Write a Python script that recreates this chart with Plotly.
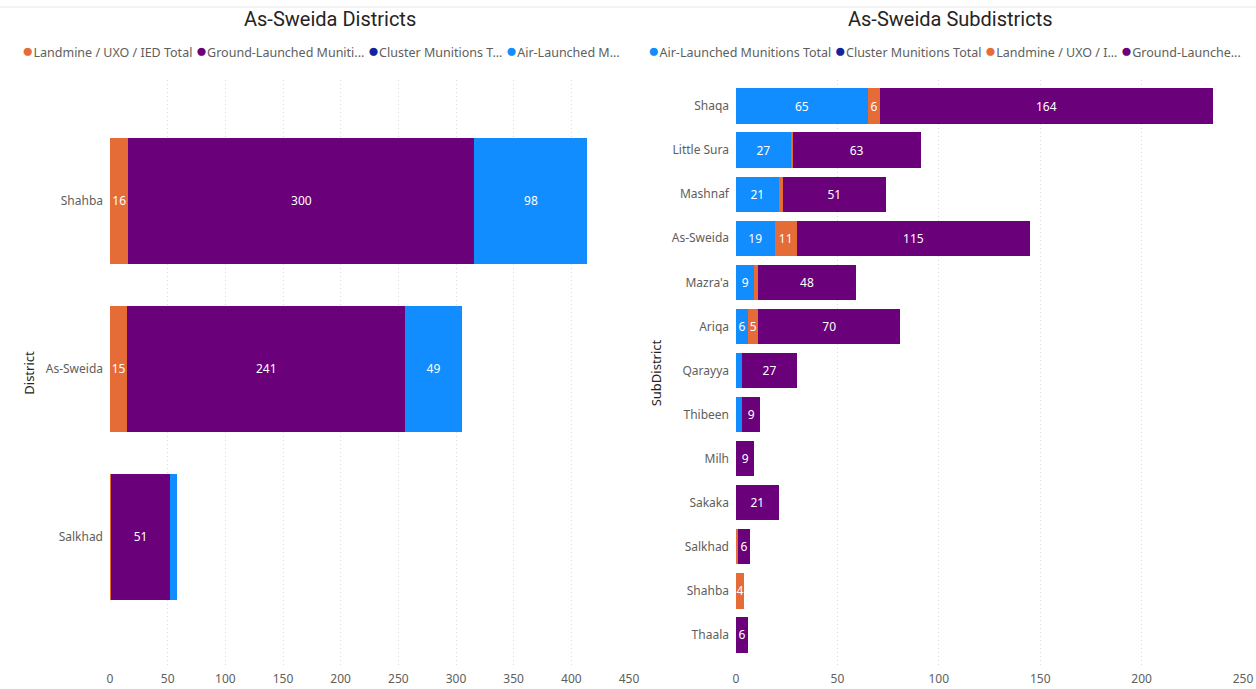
import plotly.graph_objects as go

# ---------------- data ----------------
districts = ["Shahba", "As-Sweida", "Salkhad"]
d_landmine = [16, 15, 1]
d_ground = [300, 241, 51]
d_cluster = [0, 0, 0]
d_air = [98, 49, 6]

subdistricts = ["Shaqa", "Little Sura", "Mashnaf", "As-Sweida", "Mazra'a", "Ariqa",
                "Qarayya", "Thibeen", "Milh", "Sakaka", "Salkhad", "Shahba", "Thaala"]
s_air = [65, 27, 21, 19, 9, 6, 3, 3, 0, 0, 0, 0, 0]
s_cluster = [0, 0, 0, 0, 0, 0, 0, 0, 0, 0, 0, 0, 0]
s_landmine = [6, 1, 2, 11, 2, 5, 0, 0, 0, 0, 1, 4, 0]
s_ground = [164, 63, 51, 115, 48, 70, 27, 9, 9, 21, 6, 0, 6]

left_ticks = [0, 50, 100, 150, 200, 250, 300, 350, 400, 450]
right_ticks = [0, 50, 100, 150, 200, 250]

C_LAND = "#E66C37"
C_GROUND = "#6B007B"
C_CLUSTER = "#12239E"
C_AIR = "#118DFF"

W, H = 1256, 689
FONT = "Noto Sans"
GREY = "#605E5C"
DARK = "#252423"


def px(x):
    return x / W


def py(y):
    return 1 - y / H


fig = go.Figure()


def labels(vals, minv):
    return [str(v) if v >= minv else "" for v in vals]


def add_bar(cats, vals, color, xa, ya, width, minv):
    fig.add_trace(go.Bar(
        y=cats, x=vals, orientation="h", marker=dict(color=color, line=dict(width=0)),
        xaxis=xa, yaxis=ya, width=width, showlegend=False,
        text=labels(vals, minv), textposition="inside", insidetextanchor="middle",
        textangle=0, constraintext="none",
        textfont=dict(color="white", size=12, family=FONT),
        hoverinfo="x+y",
    ))


# Left chart stack: landmine, ground, cluster, air
add_bar(districts, d_landmine, C_LAND, "x", "y", 0.75, 10)
add_bar(districts, d_ground, C_GROUND, "x", "y", 0.75, 10)
add_bar(districts, d_cluster, C_CLUSTER, "x", "y", 0.75, 10)
add_bar(districts, d_air, C_AIR, "x", "y", 0.75, 10)

# Right chart stack: air, cluster, landmine, ground
add_bar(subdistricts, s_air, C_AIR, "x2", "y2", 0.8, 4)
add_bar(subdistricts, s_cluster, C_CLUSTER, "x2", "y2", 0.8, 4)
add_bar(subdistricts, s_landmine, C_LAND, "x2", "y2", 0.8, 4)
add_bar(subdistricts, s_ground, C_GROUND, "x2", "y2", 0.8, 4)

ytop, ybot = 80, 666
left_span = (ybot - ytop) / 168.0
right_span = (ybot - ytop) / 44.08

xaxis_common = dict(
    showgrid=True, gridcolor="#DADADA", griddash="1px,3px", gridwidth=1,
    zeroline=False, showline=False, ticks="",
    tickfont=dict(size=12, color=GREY, family=FONT), automargin=False,
    ticklabelstandoff=4,
)
yaxis_common = dict(
    type="category", showgrid=False, zeroline=False, showline=False, ticks="",
    tickfont=dict(size=12, color=GREY, family=FONT), automargin=False,
    ticklabelstandoff=6,
)

fig.update_layout(
    width=W, height=H,
    margin=dict(l=0, r=0, t=0, b=0),
    paper_bgcolor="white", plot_bgcolor="white",
    barmode="stack",
    font=dict(family=FONT),
    xaxis=dict(xaxis_common, domain=[px(110), px(629)], range=[0, 450],
               tickvals=left_ticks, anchor="y"),
    yaxis=dict(yaxis_common, domain=[py(ybot), py(ytop)],
               categoryorder="array", categoryarray=districts,
               range=[-0.72 + left_span, -0.72], anchor="x",
               title=dict(text="District", font=dict(size=13, color=DARK, family=FONT), standoff=8)),
    xaxis2=dict(xaxis_common, domain=[px(736), px(1243)], range=[0, 250],
                tickvals=right_ticks, anchor="y2"),
    yaxis2=dict(yaxis_common, domain=[py(ybot), py(ytop)],
                categoryorder="array", categoryarray=subdistricts,
                range=[-0.59 + right_span, -0.59], anchor="x2",
                title=dict(text="SubDistrict", font=dict(size=13, color=DARK, family=FONT), standoff=7)),
)

# Titles
fig.add_annotation(text="As-Sweida Districts", x=px(330), y=py(19), xref="paper", yref="paper",
                   showarrow=False, font=dict(size=20, color=DARK, family="Roboto"),
                   xanchor="center", yanchor="middle")
fig.add_annotation(text="As-Sweida Subdistricts", x=px(950), y=py(19), xref="paper", yref="paper",
                   showarrow=False, font=dict(size=20, color=DARK, family="Roboto"),
                   xanchor="center", yanchor="middle")

# Legends (Power BI style, dots + truncated names)
left_legend = [("Landmine / UXO / IED Total", C_LAND), ("Ground-Launched Muniti...", C_GROUND),
               ("Cluster Munitions T...", C_CLUSTER), ("Air-Launched M...", C_AIR)]
right_legend = [("Air-Launched Munitions Total", C_AIR), ("Cluster Munitions Total", C_CLUSTER),
                ("Landmine / UXO / I...", C_LAND), ("Ground-Launche...", C_GROUND)]


def legend_text(items):
    return " ".join(f"<span style='color:{c};font-size:19px'>●</span>{n}" for n, c in items)


fig.add_annotation(text=legend_text(left_legend), x=px(20), y=py(50), xref="paper", yref="paper",
                   showarrow=False, font=dict(size=12.5, color=GREY, family=FONT),
                   xanchor="left", yanchor="middle")
fig.add_annotation(text=legend_text(right_legend), x=px(646), y=py(50), xref="paper", yref="paper",
                   showarrow=False, font=dict(size=12.5, color=GREY, family=FONT),
                   xanchor="left", yanchor="middle")

# faint top border line
fig.add_shape(type="line", xref="paper", yref="paper", x0=0, x1=1, y0=py(7), y1=py(7),
              line=dict(color="#E6E6E6", width=1))

fig.write_html("out.html", config={"displayModeBar": False},
               post_script="document.body.style.margin='0';document.body.style.overflow='hidden';")
